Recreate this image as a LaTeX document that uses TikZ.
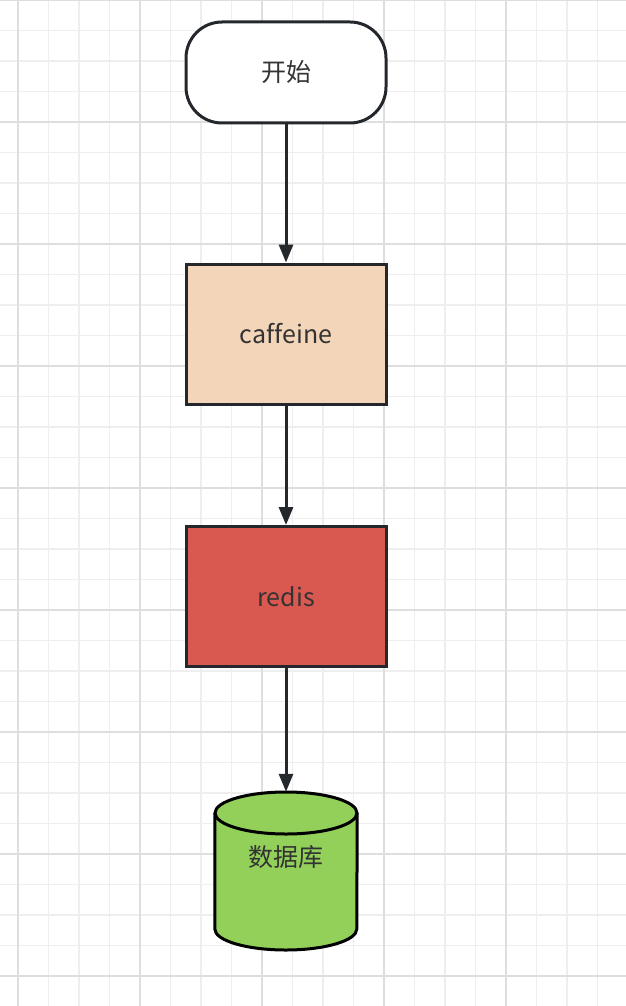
\documentclass[tikz,border=0pt]{standalone}
\usepackage{fontspec}
\setmainfont[Ligatures=NoCommon]{Noto Sans CJK SC}
\usetikzlibrary{arrows.meta}
\definecolor{gridminor}{RGB}{238,238,238}
\definecolor{gridmajor}{RGB}{222,222,222}
\definecolor{stroke}{RGB}{36,40,44}
\definecolor{txt}{RGB}{51,51,51}
\definecolor{caff}{RGB}{243,213,185}
\definecolor{red}{RGB}{217,89,80}
\definecolor{green}{RGB}{146,208,90}
\tikzset{
  box/.style={draw=stroke, line width=3pt, minimum width=200pt, minimum height=140pt, inner sep=0pt, text=txt, font=\fontsize{25}{29}\selectfont},
  conn/.style={draw=stroke, line width=3pt, -{Triangle[length=18pt,width=14pt]}},
}
\begin{document}
\begin{tikzpicture}[x=1pt,y=-1pt]
\useasboundingbox (0,0) rectangle (626,1006);
\fill[white] (0,0) rectangle (626,1006);
% grid
\foreach \k in {-1,...,21} {
  \pgfmathsetmacro{\xx}{18+30.5*\k}
  \draw[gridminor, line width=1.2pt] (\xx,0) -- (\xx,1006);
}
\foreach \k in {0,...,33} {
  \pgfmathsetmacro{\yy}{30.5*\k}
  \draw[gridminor, line width=1.2pt] (0,\yy) -- (626,\yy);
}
\foreach \k in {0,...,5} {
  \pgfmathsetmacro{\xx}{18+122*\k}
  \draw[gridmajor, line width=1.5pt] (\xx,0) -- (\xx,1006);
}
\foreach \k in {0,...,8} {
  \pgfmathsetmacro{\yy}{122*\k}
  \draw[gridmajor, line width=1.5pt] (0,\yy) -- (626,\yy);
}
% nodes
\node[box, fill=white, rounded corners=36pt, minimum height=101pt] (start) at (286,72.5) {开始};
\node[box, fill=caff] (caffeine) at (286,334) {caf\kern0ptfeine};
\node[box, fill=red] (redis) at (286,596.5) {redis};
% database cylinder
\node[minimum width=142pt, minimum height=158pt, inner sep=0pt] (db) at (286,871) {};
\fill[green] (db.west |- 0,813) -- (db.west |- 0,929) arc[start angle=180, end angle=0, x radius=71, y radius=21] -- (db.east |- 0,813) -- cycle;
\draw[stroke, line width=3pt, fill=green] (286,813) ellipse[x radius=71, y radius=21];
\draw[stroke, line width=3pt] (db.west |- 0,813) -- (db.west |- 0,929) arc[start angle=180, end angle=0, x radius=71, y radius=21] -- (db.east |- 0,813);
\node[text=txt, font=\fontsize{25}{29}\selectfont] (dblabel) at (286,857) {数据库};
% connectors
\draw[conn] (start.south) -- (caffeine.north);
\draw[conn] (caffeine.south) -- (redis.north);
\draw[conn] (redis.south) -- (db.north);
\end{tikzpicture}
\end{document}
